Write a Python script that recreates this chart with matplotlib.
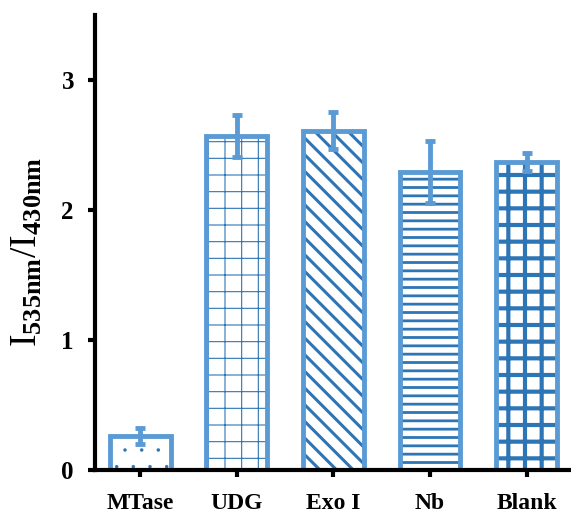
import matplotlib
matplotlib.use("Agg")
import matplotlib.pyplot as plt

# data
labels = ["MTase", "UDG", "Exo I", "Nb", "Blank"]
values = [0.26, 2.57, 2.61, 2.29, 2.37]
errors = [0.06, 0.16, 0.14, 0.24, 0.07]
hatches = [".", "+", "\\\\", "--", "+"]
hatch_lw = [0.1, 0.8, 2.2, 2.0, 3.0]

edge = "#5B9BD5"
dark = "#2E75B6"

plt.rcParams["font.family"] = "Liberation Serif"
plt.rcParams["font.weight"] = "bold"
plt.rcParams["mathtext.fontset"] = "custom"
plt.rcParams["mathtext.rm"] = "Liberation Serif:bold"
plt.rcParams["mathtext.it"] = "Liberation Serif:bold"
plt.rcParams["mathtext.bf"] = "Liberation Serif:bold"
plt.rcParams["hatch.color"] = dark

fig = plt.figure(figsize=(5.71, 5.18), dpi=100)
ax = fig.add_axes([0.166, 0.093, 0.834, 0.878])

x = list(range(len(labels)))
# hatch layer, then outline on top
bars = ax.bar(x, values, width=0.63, color="white", edgecolor=dark, linewidth=0, hatch=hatches)
for b, lw in zip(bars, hatch_lw):
    b.set_hatch_linewidth(lw)
ax.bar(x, values, width=0.63, fill=False, edgecolor=edge, linewidth=3.5)
ax.errorbar(x, values, yerr=errors, fmt="none", ecolor=edge, elinewidth=3.5,
            capsize=3.5, capthick=3.5)

ax.set_xlim(-0.47, 4.46)
ax.set_ylim(0, 3.5)
ax.set_yticks([0, 1, 2, 3])
ax.set_xticks(x)
ax.set_xticklabels(labels)
ax.spines["top"].set_visible(False)
ax.spines["right"].set_visible(False)
ax.spines["left"].set_linewidth(3)
ax.spines["bottom"].set_linewidth(3)
ax.tick_params(axis="both", width=3, length=5, direction="out")
ax.tick_params(axis="x", pad=12, labelsize=17)
ax.tick_params(axis="y", pad=10, labelsize=18)
ax.set_ylabel(r"I$_{\mathrm{535nm}}$/I$_{\mathrm{430nm}}$", fontsize=27)
ax.yaxis.set_label_coords(-0.105, 0.48)

fig.savefig("out.png")
